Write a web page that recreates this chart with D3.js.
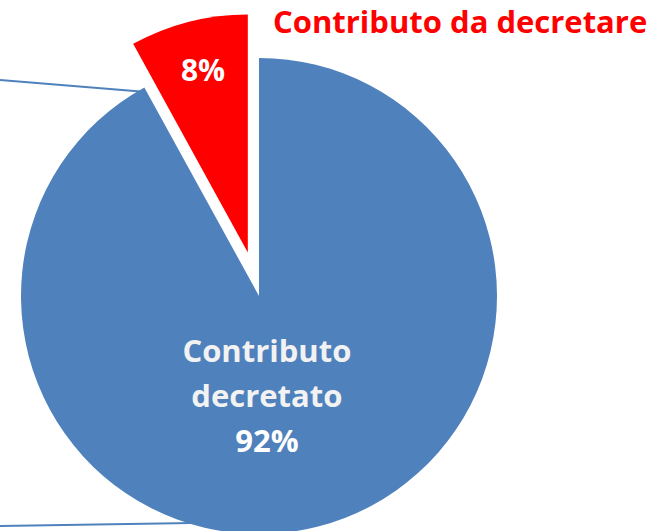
<!DOCTYPE html>
<html>
<head>
<meta charset="utf-8">
<script src="https://cdn.jsdelivr.net/npm/d3@7"></script>
<style>
  body { margin: 0; background: #fff; }
  text { font-family: "Open Sans", "Noto Sans", sans-serif; font-weight: bold; }
</style>
</head>
<body>
<div id="chart"></div>
<script>
// chart data
var categories = ["Contributo decretato", "Contributo da decretare"]
var values = [92, 8]
var colors = ["#4F81BD", "#FF0000"]

var width = 661,
    height = 531,
    radius = 238,
    cx = 259,
    cy = 296,
    explode = 45

var svg = d3.select("#chart")
            .append("svg")
            .attr("width", width)
            .attr("height", height)

var pie = d3.pie()
            .sort(null)
            .value(function(d) { return d })

var slices = pie(values)

var arc = d3.arc()
            .innerRadius(0)
            .outerRadius(radius)

// connector lines coming from outside the picture (drawn behind the pie)
var blue = slices[0]
var cornerAngle = blue.endAngle
var corner = [cx + radius * Math.sin(cornerAngle) - 4, cy - radius * Math.cos(cornerAngle) + 4]
svg.append("line")
   .attr("x1", 0).attr("y1", 80)
   .attr("x2", corner[0]).attr("y2", corner[1])
   .attr("stroke", "#4F81BD")
   .attr("stroke-width", 2)
svg.append("line")
   .attr("x1", 0).attr("y1", 526)
   .attr("x2", cx).attr("y2", cy + radius - 12)
   .attr("stroke", "#4F81BD")
   .attr("stroke-width", 2)

var g = svg.append("g")
           .attr("transform", "translate(" + cx + "," + cy + ")")

// offset for the exploded slice
function offset(d, i) {
  if (i == 0) return [0, 0]
  var a = (d.startAngle + d.endAngle) / 2
  return [explode * Math.sin(a), -explode * Math.cos(a)]
}

g.selectAll("path.slice")
 .data(slices)
 .enter()
 .append("path")
 .attr("class", "slice")
 .attr("d", arc)
 .attr("fill", function(d, i) { return colors[i] })
 .attr("transform", function(d, i) {
   var o = offset(d, i)
   return "translate(" + o[0] + "," + o[1] + ")"
 })

// label for the big slice
var labelArc = d3.arc().innerRadius(100).outerRadius(100)
var c0 = labelArc.centroid(blue)
var lx = c0[0] - 17
var lbl = g.append("text")
           .attr("text-anchor", "middle")
           .attr("y", c0[1] - 31)
           .style("font-size", "31px")
lbl.append("tspan").attr("x", lx).attr("dy", 0).attr("fill", "#F2F2F2").text("Contributo")
lbl.append("tspan").attr("x", lx).attr("dy", 45).attr("fill", "#F2F2F2").text("decretato")
lbl.append("tspan").attr("x", lx).attr("dy", 45).attr("fill", "#FFFFFF").text(values[0] + "%")

// label for the small slice
var red = slices[1]
var o1 = offset(red, 1)
var smallArc = d3.arc().innerRadius(188).outerRadius(188)
var c1 = smallArc.centroid(red)
g.append("text")
 .attr("text-anchor", "middle")
 .attr("x", c1[0] + o1[0] + 2)
 .attr("y", c1[1] + o1[1] + 11)
 .attr("fill", "#FFFFFF")
 .style("font-size", "30px")
 .text(values[1] + "%")

// category name of the small slice
svg.append("text")
   .attr("x", 273)
   .attr("y", 33)
   .attr("fill", "#FF0000")
   .style("font-size", "31px")
   .text(categories[1])
</script>
</body>
</html>
